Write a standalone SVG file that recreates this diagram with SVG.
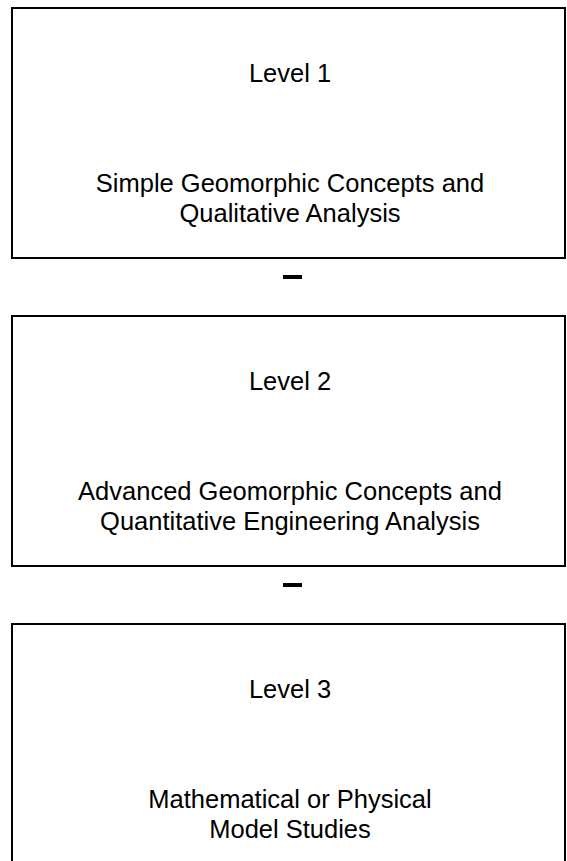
<svg xmlns="http://www.w3.org/2000/svg" width="567" height="861" viewBox="0 0 567 861">
<style>
.box{fill:#fff;stroke:#000;stroke-width:2}
.t{font-family:"Liberation Sans",Arial,sans-serif;font-size:25.5px;fill:#000;text-anchor:middle}
.dash{stroke:#000;stroke-width:4}
</style>
<rect width="567" height="861" fill="#fff"/>
<g id="level1">
<rect class="box" x="12" y="8" width="553" height="250"/>
<text class="t" x="290" y="82">Level 1</text>
<text class="t" x="290" y="192">Simple Geomorphic Concepts and</text>
<text class="t" x="290" y="222">Qualitative Analysis</text>
</g>
<g id="level2">
<rect class="box" x="12" y="316" width="553" height="250"/>
<text class="t" x="290" y="390">Level 2</text>
<text class="t" x="290" y="500">Advanced Geomorphic Concepts and</text>
<text class="t" x="290" y="530">Quantitative Engineering Analysis</text>
</g>
<g id="level3">
<rect class="box" x="12" y="624" width="553" height="260"/>
<text class="t" x="290" y="698">Level 3</text>
<text class="t" x="290" y="808">Mathematical or Physical</text>
<text class="t" x="290" y="838">Model Studies</text>
</g>
<g id="connectors">
<line class="dash" x1="283" y1="277" x2="302" y2="277"/>
<line class="dash" x1="283" y1="585" x2="302" y2="585"/>
</g>
</svg>
